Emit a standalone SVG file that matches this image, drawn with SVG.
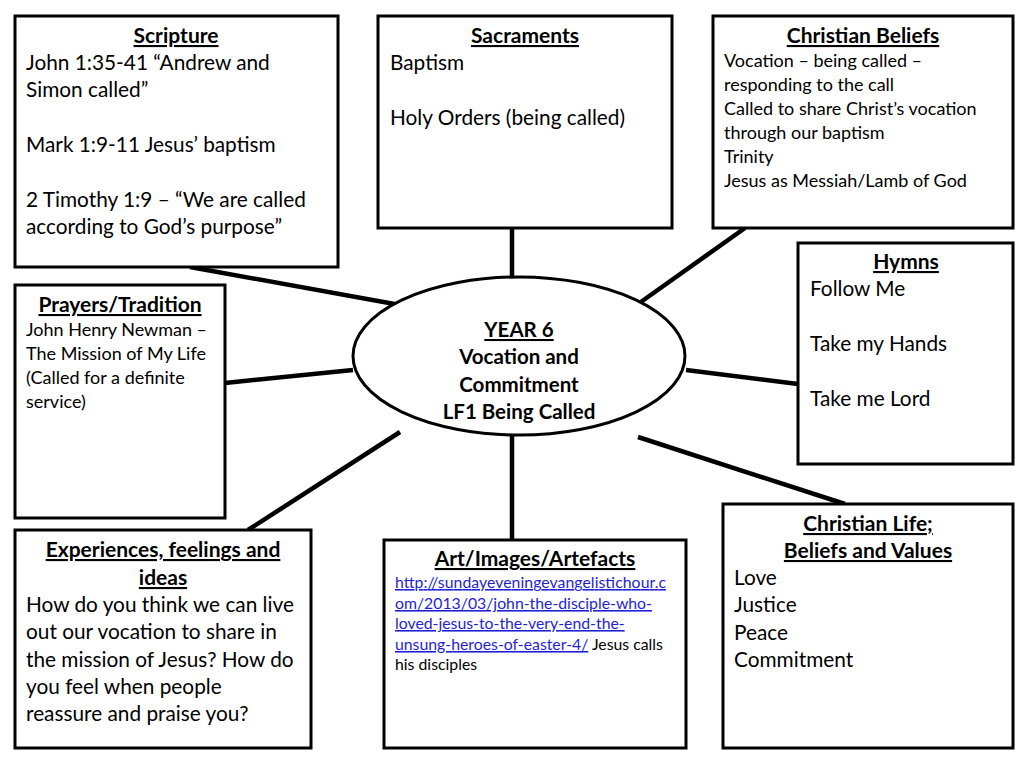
<svg xmlns="http://www.w3.org/2000/svg" width="1024" height="768" viewBox="0 0 1024 768">
<style>
.box{fill:#fff;stroke:#000;stroke-width:3}
.t{font-family:Lato,"Open Sans",sans-serif;fill:#000}
.h{font-weight:bold;text-decoration:underline;text-anchor:middle;font-size:21px}
.b20{font-size:20.8px}
.b17{font-size:18px}
.c{text-anchor:middle;font-weight:bold;font-size:20.5px}
.lk{fill:#1f1fd6;text-decoration:underline}
.con line{stroke:#000;stroke-width:4.5}
</style>
<rect width="1024" height="768" fill="#fff"/>
<g class="con">
<line x1="190" y1="267" x2="400" y2="305"/>
<line x1="512" y1="228" x2="512" y2="278"/>
<line x1="745" y1="228" x2="638" y2="304"/>
<line x1="686" y1="370" x2="798" y2="384"/>
<line x1="638" y1="437" x2="845" y2="504"/>
<line x1="512" y1="436" x2="512" y2="540"/>
<line x1="248" y1="530" x2="400" y2="432"/>
<line x1="225" y1="383" x2="353" y2="370"/>
</g>
<g id="center">
<ellipse cx="519" cy="356" rx="166" ry="79" fill="#fff" stroke="#000" stroke-width="3"/>
<text class="t c" x="519" y="337" text-decoration="underline">YEAR 6</text>
<text class="t c" x="519" y="364">Vocation and</text>
<text class="t c" x="519" y="392">Commitment</text>
<text class="t c" x="519" y="419">LF1 Being Called</text>
</g>
<g id="scripture">
<rect class="box" x="15" y="16" width="323" height="251"/>
<text class="t h" x="176" y="43">Scripture</text>
<text class="t b20" x="26" y="70">John 1:35-41 “Andrew and</text>
<text class="t b20" x="26" y="97">Simon called”</text>
<text class="t b20" x="26" y="152">Mark 1:9-11 Jesus’ baptism</text>
<text class="t b20" x="26" y="207">2 Timothy 1:9 – “We are called</text>
<text class="t b20" x="26" y="234">according to God’s purpose”</text>
</g>
<g id="sacraments">
<rect class="box" x="378" y="16" width="294" height="212"/>
<text class="t h" x="525" y="43">Sacraments</text>
<text class="t b20" x="390" y="70">Baptism</text>
<text class="t b20" x="390" y="125">Holy Orders (being called)</text>
</g>
<g id="beliefs">
<rect class="box" x="713" y="16" width="300" height="212"/>
<text class="t h" x="863" y="43">Christian Beliefs</text>
<text class="t b17" x="724" y="67">Vocation – being called –</text>
<text class="t b17" x="724" y="91">responding to the call</text>
<text class="t b17" x="724" y="115">Called to share Christ’s vocation</text>
<text class="t b17" x="724" y="139">through our baptism</text>
<text class="t b17" x="724" y="163">Trinity</text>
<text class="t b17" x="724" y="187">Jesus as Messiah/Lamb of God</text>
</g>
<g id="hymns">
<rect class="box" x="798" y="243" width="215" height="221"/>
<text class="t h" x="906" y="269">Hymns</text>
<text class="t b20" x="810" y="296">Follow Me</text>
<text class="t b20" x="810" y="351">Take my Hands</text>
<text class="t b20" x="810" y="406">Take me Lord</text>
</g>
<g id="prayers">
<rect class="box" x="15" y="285" width="210" height="233"/>
<text class="t h" x="120" y="312">Prayers/Tradition</text>
<text class="t b17" x="26" y="336">John Henry Newman –</text>
<text class="t b17" x="26" y="360">The Mission of My Life</text>
<text class="t b17" x="26" y="384">(Called for a definite</text>
<text class="t b17" x="26" y="408">service)</text>
</g>
<g id="experiences">
<rect class="box" x="15" y="530" width="296" height="218"/>
<text class="t h" x="163" y="557">Experiences, feelings and</text>
<text class="t h" x="163" y="585">ideas</text>
<text class="t b20" x="26" y="612">How do you think we can live</text>
<text class="t b20" x="26" y="639">out our vocation to share in</text>
<text class="t b20" x="26" y="667">the mission of Jesus? How do</text>
<text class="t b20" x="26" y="694">you feel when people</text>
<text class="t b20" x="26" y="721">reassure and praise you?</text>
</g>
<g id="art">
<rect class="box" x="384" y="540" width="302" height="208"/>
<text class="t h" x="535" y="566">Art/Images/Artefacts</text>
<text class="t lk" font-size="15.8" x="395" y="588" textLength="271" lengthAdjust="spacing">http://sundayeveningevangelistichour.c</text>
<text class="t" font-size="15.8" x="395" y="609"><tspan class="lk">om/2013/03/john-the-disciple-who-</tspan></text>
<text class="t" font-size="15.8" x="395" y="629"><tspan class="lk">loved-jesus-to-the-very-end-the-</tspan></text>
<text class="t" font-size="15.8" x="395" y="650"><tspan class="lk">unsung-heroes-of-easter-4/</tspan> Jesus calls</text>
<text class="t" font-size="15.8" x="395" y="670">his disciples</text>
</g>
<g id="life">
<rect class="box" x="723" y="504" width="290" height="244"/>
<text class="t h" x="868" y="531">Christian Life;</text>
<text class="t h" x="868" y="558">Beliefs and Values</text>
<text class="t b20" x="734" y="585">Love</text>
<text class="t b20" x="734" y="612">Justice</text>
<text class="t b20" x="734" y="640">Peace</text>
<text class="t b20" x="734" y="667">Commitment</text>
</g>
</svg>
